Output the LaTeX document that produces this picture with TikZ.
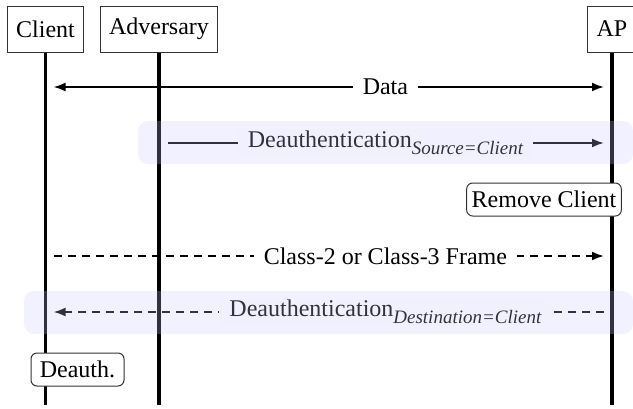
\documentclass[tikz,border=0pt]{standalone}
\usepackage{fontspec}
\setmainfont{Liberation Serif}[Ligatures=TeX]
\usetikzlibrary{arrows.meta, positioning}

\newcommand{\msgsub}[1]{\raisebox{-3.5pt}{\fontsize{9.5}{11}\selectfont\itshape #1}}

\tikzset{
  actor/.style={draw=black!80, line width=0.5pt, fill=white, minimum height=23pt, inner xsep=4.5pt},
  lifeline/.style={line width=1.6pt},
  msg/.style={line width=1pt, shorten >=4pt, shorten <=4pt},
  msglabel/.style={fill=white, inner xsep=5pt, inner ysep=1pt},
  note/.style={draw=black!80, line width=0.5pt, rounded corners=3pt, fill=white, inner xsep=2.5pt, minimum height=16.5pt},
  band/.style={fill=blue!22, opacity=0.25, rounded corners=5pt},
  tip/.style={-{Latex[length=6pt,width=4.5pt]}},
}

\begin{document}
\begin{tikzpicture}[x=0.5pt,y=-0.5pt,font=\fontsize{12}{14}\selectfont]
  \useasboundingbox (0,0) rectangle (633,408);

  % Actors and their lifelines
  \node[actor] (client) at (45.5,29) {Client};
  \node[actor] (adv) at (159,29) {Adversary};
  \node[actor] (ap) at (612,29) {AP};
  \coordinate (client-end) at (client.south |- 0,405);
  \coordinate (adv-end) at (adv.south |- 0,405);
  \coordinate (ap-end) at (ap.south |- 0,405);
  \draw[lifeline] (client.south) -- (client-end);
  \draw[lifeline] (adv.south) -- (adv-end);
  \draw[lifeline] (ap.south) -- (ap-end);

  % Messages
  \draw[msg, {Latex[length=6pt,width=4.5pt]}-{Latex[length=6pt,width=4.5pt]}]
    (client |- 0,87) -- node[msglabel, pos=0.6] (data) {Data} (ap |- 0,87);
  \draw[msg, tip, shorten <=4.5pt]
    (adv |- 0,143) -- node[msglabel] (deauth-src)
    {Deauthentication\msgsub{Source=Client}} (ap |- 0,143);
  \node[note] (remove) at (544,199.5) {Remove Client};
  \draw[msg, tip, dash pattern=on 4pt off 3pt]
    (client |- 0,256) -- node[msglabel, pos=0.6] (frame) {Class-2 or Class-3 Frame} (ap |- 0,256);
  \draw[msg, tip, dash pattern=on 4pt off 3pt]
    (ap |- 0,312) -- node[msglabel, pos=0.4] (deauth-dst)
    {Deauthentication\msgsub{Destination=Client}} (client |- 0,312);
  \node[note, minimum width=46.5pt] (deauth) at (77.5,369.5) {Deauth.};

  % Spoofed frames
  \fill[band] (138,121) rectangle (633,164);
  \fill[band] (24,291) rectangle (633,334);
\end{tikzpicture}
\end{document}
